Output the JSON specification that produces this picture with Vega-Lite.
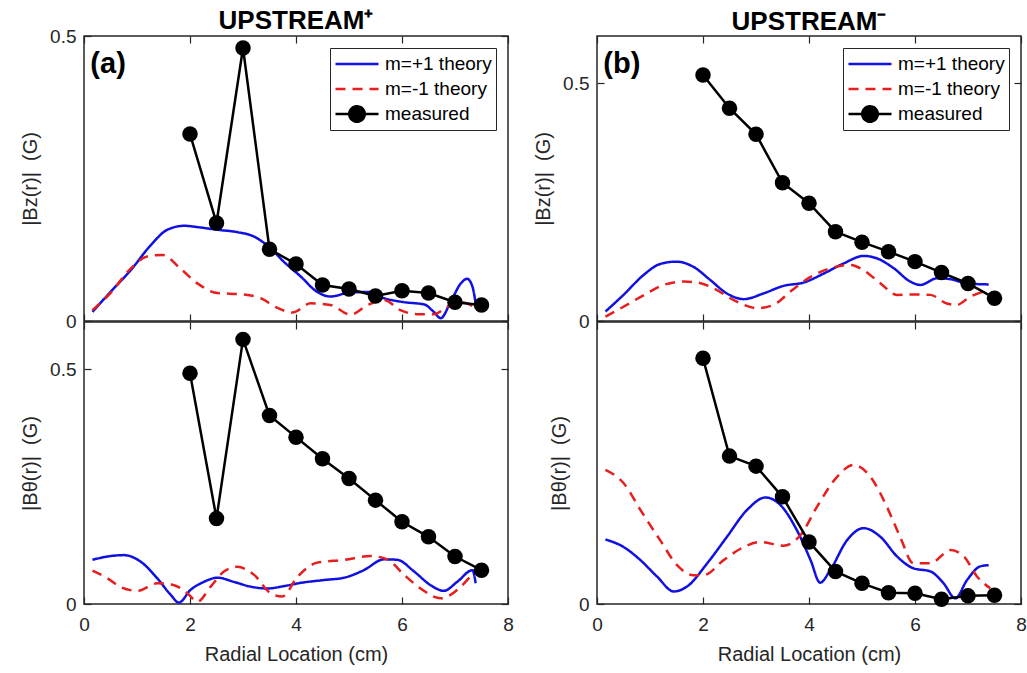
{
  "$schema": "https://vega.github.io/schema/vega-lite/v6.json",
  "background": "white",
  "padding": {"left": 19, "top": 7, "right": 5, "bottom": 3},
  "config": {
    "font": "Liberation Sans",
    "view": {"stroke": "#262626", "strokeWidth": 1.5},
    "axis": {
      "grid": false, "domain": false, "tickSize": -7, "tickColor": "#262626", "tickWidth": 1.2,
      "labelFont": "Liberation Sans", "labelFontSize": 19, "labelColor": "#262626",
      "labelFlush": false, "labelOverlap": false,
      "titleFont": "Liberation Sans", "titleFontSize": 20, "titleFontWeight": "normal", "titleColor": "#262626"
    },
    "axisY": {"labelPadding": 15, "titlePadding": 9},
    "axisX": {"labelPadding": 18, "titlePadding": 10},
    "title": {"font": "Liberation Sans", "color": "black"}
  },
  "datasets": {
    "TL": [
      {"s": "m=+1 theory", "r": 0.16, "v": 0.016}, {"s": "m=+1 theory", "r": 0.5, "v": 0.051}, {"s": "m=+1 theory", "r": 0.88, "v": 0.089},
      {"s": "m=+1 theory", "r": 1.26, "v": 0.133}, {"s": "m=+1 theory", "r": 1.57, "v": 0.16}, {"s": "m=+1 theory", "r": 1.89, "v": 0.167},
      {"s": "m=+1 theory", "r": 2.2, "v": 0.164}, {"s": "m=+1 theory", "r": 2.52, "v": 0.16}, {"s": "m=+1 theory", "r": 2.89, "v": 0.156},
      {"s": "m=+1 theory", "r": 3.21, "v": 0.148}, {"s": "m=+1 theory", "r": 3.49, "v": 0.13}, {"s": "m=+1 theory", "r": 3.77, "v": 0.104},
      {"s": "m=+1 theory", "r": 4.09, "v": 0.078}, {"s": "m=+1 theory", "r": 4.4, "v": 0.051}, {"s": "m=+1 theory", "r": 4.65, "v": 0.043},
      {"s": "m=+1 theory", "r": 4.97, "v": 0.049}, {"s": "m=+1 theory", "r": 5.35, "v": 0.051}, {"s": "m=+1 theory", "r": 5.66, "v": 0.04},
      {"s": "m=+1 theory", "r": 6.04, "v": 0.033}, {"s": "m=+1 theory", "r": 6.42, "v": 0.029}, {"s": "m=+1 theory", "r": 6.6, "v": 0.016},
      {"s": "m=+1 theory", "r": 6.73, "v": 0.005}, {"s": "m=+1 theory", "r": 6.92, "v": 0.034}, {"s": "m=+1 theory", "r": 7.11, "v": 0.066},
      {"s": "m=+1 theory", "r": 7.23, "v": 0.074}, {"s": "m=+1 theory", "r": 7.33, "v": 0.06}, {"s": "m=+1 theory", "r": 7.39, "v": 0.031},
      {"s": "m=-1 theory", "r": 0.16, "v": 0.019}, {"s": "m=-1 theory", "r": 0.5, "v": 0.049}, {"s": "m=-1 theory", "r": 0.88, "v": 0.092},
      {"s": "m=-1 theory", "r": 1.19, "v": 0.113}, {"s": "m=-1 theory", "r": 1.48, "v": 0.116}, {"s": "m=-1 theory", "r": 1.82, "v": 0.092},
      {"s": "m=-1 theory", "r": 2.14, "v": 0.066}, {"s": "m=-1 theory", "r": 2.52, "v": 0.049}, {"s": "m=-1 theory", "r": 2.96, "v": 0.047},
      {"s": "m=-1 theory", "r": 3.33, "v": 0.04}, {"s": "m=-1 theory", "r": 3.65, "v": 0.023}, {"s": "m=-1 theory", "r": 3.93, "v": 0.015},
      {"s": "m=-1 theory", "r": 4.28, "v": 0.031}, {"s": "m=-1 theory", "r": 4.65, "v": 0.028}, {"s": "m=-1 theory", "r": 5.03, "v": 0.011},
      {"s": "m=-1 theory", "r": 5.35, "v": 0.028}, {"s": "m=-1 theory", "r": 5.66, "v": 0.037}, {"s": "m=-1 theory", "r": 5.97, "v": 0.019},
      {"s": "m=-1 theory", "r": 6.29, "v": 0.012}, {"s": "m=-1 theory", "r": 6.6, "v": 0.012}, {"s": "m=-1 theory", "r": 6.86, "v": 0.025},
      {"s": "m=-1 theory", "r": 7.11, "v": 0.033}, {"s": "m=-1 theory", "r": 7.36, "v": 0.025},
      {"s": "measured", "r": 2, "v": 0.328}, {"s": "measured", "r": 2.5, "v": 0.172}, {"s": "measured", "r": 3, "v": 0.479},
      {"s": "measured", "r": 3.5, "v": 0.126}, {"s": "measured", "r": 4, "v": 0.1}, {"s": "measured", "r": 4.5, "v": 0.063},
      {"s": "measured", "r": 5, "v": 0.056}, {"s": "measured", "r": 5.5, "v": 0.044}, {"s": "measured", "r": 6, "v": 0.053},
      {"s": "measured", "r": 6.5, "v": 0.049}, {"s": "measured", "r": 7, "v": 0.033}, {"s": "measured", "r": 7.5, "v": 0.028}
    ],
    "TR": [
      {"s": "m=+1 theory", "r": 0.16, "v": 0.02}, {"s": "m=+1 theory", "r": 0.5, "v": 0.055}, {"s": "m=+1 theory", "r": 0.88, "v": 0.097},
      {"s": "m=+1 theory", "r": 1.19, "v": 0.12}, {"s": "m=+1 theory", "r": 1.5, "v": 0.125}, {"s": "m=+1 theory", "r": 1.82, "v": 0.114},
      {"s": "m=+1 theory", "r": 2.14, "v": 0.086}, {"s": "m=+1 theory", "r": 2.45, "v": 0.058}, {"s": "m=+1 theory", "r": 2.77, "v": 0.046},
      {"s": "m=+1 theory", "r": 3.14, "v": 0.058}, {"s": "m=+1 theory", "r": 3.52, "v": 0.074}, {"s": "m=+1 theory", "r": 3.9, "v": 0.081},
      {"s": "m=+1 theory", "r": 4.28, "v": 0.1}, {"s": "m=+1 theory", "r": 4.65, "v": 0.121}, {"s": "m=+1 theory", "r": 5.03, "v": 0.137},
      {"s": "m=+1 theory", "r": 5.28, "v": 0.132}, {"s": "m=+1 theory", "r": 5.6, "v": 0.111}, {"s": "m=+1 theory", "r": 5.91, "v": 0.083},
      {"s": "m=+1 theory", "r": 6.1, "v": 0.076}, {"s": "m=+1 theory", "r": 6.42, "v": 0.09}, {"s": "m=+1 theory", "r": 6.67, "v": 0.088},
      {"s": "m=+1 theory", "r": 6.98, "v": 0.079}, {"s": "m=+1 theory", "r": 7.39, "v": 0.077},
      {"s": "m=-1 theory", "r": 0.16, "v": 0.009}, {"s": "m=-1 theory", "r": 0.5, "v": 0.03}, {"s": "m=-1 theory", "r": 0.94, "v": 0.058},
      {"s": "m=-1 theory", "r": 1.26, "v": 0.076}, {"s": "m=-1 theory", "r": 1.64, "v": 0.083}, {"s": "m=-1 theory", "r": 1.89, "v": 0.081},
      {"s": "m=-1 theory", "r": 2.2, "v": 0.069}, {"s": "m=-1 theory", "r": 2.58, "v": 0.044}, {"s": "m=-1 theory", "r": 3.02, "v": 0.027},
      {"s": "m=-1 theory", "r": 3.33, "v": 0.034}, {"s": "m=-1 theory", "r": 3.65, "v": 0.062}, {"s": "m=-1 theory", "r": 4.03, "v": 0.093},
      {"s": "m=-1 theory", "r": 4.4, "v": 0.111}, {"s": "m=-1 theory", "r": 4.78, "v": 0.118}, {"s": "m=-1 theory", "r": 5.03, "v": 0.107},
      {"s": "m=-1 theory", "r": 5.35, "v": 0.079}, {"s": "m=-1 theory", "r": 5.66, "v": 0.055}, {"s": "m=-1 theory", "r": 6.04, "v": 0.056},
      {"s": "m=-1 theory", "r": 6.29, "v": 0.055}, {"s": "m=-1 theory", "r": 6.6, "v": 0.037}, {"s": "m=-1 theory", "r": 6.79, "v": 0.034},
      {"s": "m=-1 theory", "r": 7.04, "v": 0.051}, {"s": "m=-1 theory", "r": 7.39, "v": 0.065},
      {"s": "measured", "r": 2, "v": 0.518}, {"s": "measured", "r": 2.5, "v": 0.448}, {"s": "measured", "r": 3, "v": 0.393},
      {"s": "measured", "r": 3.5, "v": 0.291}, {"s": "measured", "r": 4, "v": 0.248}, {"s": "measured", "r": 4.5, "v": 0.188},
      {"s": "measured", "r": 5, "v": 0.166}, {"s": "measured", "r": 5.5, "v": 0.146}, {"s": "measured", "r": 6, "v": 0.125},
      {"s": "measured", "r": 6.5, "v": 0.102}, {"s": "measured", "r": 7, "v": 0.079}, {"s": "measured", "r": 7.5, "v": 0.048}
    ],
    "BL": [
      {"s": "m=+1 theory", "r": 0.16, "v": 0.094}, {"s": "m=+1 theory", "r": 0.44, "v": 0.101}, {"s": "m=+1 theory", "r": 0.75, "v": 0.104},
      {"s": "m=+1 theory", "r": 1.07, "v": 0.09}, {"s": "m=+1 theory", "r": 1.38, "v": 0.055}, {"s": "m=+1 theory", "r": 1.64, "v": 0.019},
      {"s": "m=+1 theory", "r": 1.79, "v": 0.003}, {"s": "m=+1 theory", "r": 2.01, "v": 0.03}, {"s": "m=+1 theory", "r": 2.26, "v": 0.047},
      {"s": "m=+1 theory", "r": 2.52, "v": 0.056}, {"s": "m=+1 theory", "r": 2.83, "v": 0.047}, {"s": "m=+1 theory", "r": 3.14, "v": 0.037},
      {"s": "m=+1 theory", "r": 3.46, "v": 0.033}, {"s": "m=+1 theory", "r": 3.77, "v": 0.038}, {"s": "m=+1 theory", "r": 4.09, "v": 0.045},
      {"s": "m=+1 theory", "r": 4.53, "v": 0.051}, {"s": "m=+1 theory", "r": 4.91, "v": 0.056}, {"s": "m=+1 theory", "r": 5.28, "v": 0.072},
      {"s": "m=+1 theory", "r": 5.66, "v": 0.095}, {"s": "m=+1 theory", "r": 5.91, "v": 0.094}, {"s": "m=+1 theory", "r": 6.23, "v": 0.069},
      {"s": "m=+1 theory", "r": 6.54, "v": 0.04}, {"s": "m=+1 theory", "r": 6.79, "v": 0.028}, {"s": "m=+1 theory", "r": 7.04, "v": 0.047},
      {"s": "m=+1 theory", "r": 7.33, "v": 0.072}, {"s": "m=+1 theory", "r": 7.39, "v": 0.044},
      {"s": "m=-1 theory", "r": 0.16, "v": 0.071}, {"s": "m=-1 theory", "r": 0.44, "v": 0.055}, {"s": "m=-1 theory", "r": 0.69, "v": 0.036},
      {"s": "m=-1 theory", "r": 1.01, "v": 0.028}, {"s": "m=-1 theory", "r": 1.38, "v": 0.044}, {"s": "m=-1 theory", "r": 1.7, "v": 0.04},
      {"s": "m=-1 theory", "r": 1.95, "v": 0.023}, {"s": "m=-1 theory", "r": 2.14, "v": 0.005}, {"s": "m=-1 theory", "r": 2.39, "v": 0.037},
      {"s": "m=-1 theory", "r": 2.64, "v": 0.069}, {"s": "m=-1 theory", "r": 2.89, "v": 0.079}, {"s": "m=-1 theory", "r": 3.21, "v": 0.062},
      {"s": "m=-1 theory", "r": 3.52, "v": 0.023}, {"s": "m=-1 theory", "r": 3.74, "v": 0.016}, {"s": "m=-1 theory", "r": 4.03, "v": 0.058},
      {"s": "m=-1 theory", "r": 4.4, "v": 0.088}, {"s": "m=-1 theory", "r": 4.91, "v": 0.094}, {"s": "m=-1 theory", "r": 5.41, "v": 0.102},
      {"s": "m=-1 theory", "r": 5.72, "v": 0.095}, {"s": "m=-1 theory", "r": 6.04, "v": 0.062}, {"s": "m=-1 theory", "r": 6.35, "v": 0.033},
      {"s": "m=-1 theory", "r": 6.73, "v": 0.012}, {"s": "m=-1 theory", "r": 7.11, "v": 0.037}, {"s": "m=-1 theory", "r": 7.33, "v": 0.064},
      {"s": "measured", "r": 2, "v": 0.491}, {"s": "measured", "r": 2.5, "v": 0.182}, {"s": "measured", "r": 3, "v": 0.563},
      {"s": "measured", "r": 3.5, "v": 0.401}, {"s": "measured", "r": 4, "v": 0.355}, {"s": "measured", "r": 4.5, "v": 0.309},
      {"s": "measured", "r": 5, "v": 0.267}, {"s": "measured", "r": 5.5, "v": 0.221}, {"s": "measured", "r": 6, "v": 0.175},
      {"s": "measured", "r": 6.5, "v": 0.143}, {"s": "measured", "r": 7, "v": 0.101}, {"s": "measured", "r": 7.5, "v": 0.072}
    ],
    "BR": [
      {"s": "m=+1 theory", "r": 0.16, "v": 0.103}, {"s": "m=+1 theory", "r": 0.5, "v": 0.091}, {"s": "m=+1 theory", "r": 0.82, "v": 0.07},
      {"s": "m=+1 theory", "r": 1.13, "v": 0.044}, {"s": "m=+1 theory", "r": 1.45, "v": 0.02}, {"s": "m=+1 theory", "r": 1.7, "v": 0.028},
      {"s": "m=+1 theory", "r": 2.08, "v": 0.065}, {"s": "m=+1 theory", "r": 2.45, "v": 0.107}, {"s": "m=+1 theory", "r": 2.83, "v": 0.15},
      {"s": "m=+1 theory", "r": 3.18, "v": 0.17}, {"s": "m=+1 theory", "r": 3.46, "v": 0.158}, {"s": "m=+1 theory", "r": 3.77, "v": 0.118},
      {"s": "m=+1 theory", "r": 4.03, "v": 0.07}, {"s": "m=+1 theory", "r": 4.21, "v": 0.034}, {"s": "m=+1 theory", "r": 4.4, "v": 0.054},
      {"s": "m=+1 theory", "r": 4.72, "v": 0.102}, {"s": "m=+1 theory", "r": 5.03, "v": 0.121}, {"s": "m=+1 theory", "r": 5.35, "v": 0.107},
      {"s": "m=+1 theory", "r": 5.66, "v": 0.076}, {"s": "m=+1 theory", "r": 5.97, "v": 0.057}, {"s": "m=+1 theory", "r": 6.29, "v": 0.052},
      {"s": "m=+1 theory", "r": 6.54, "v": 0.033}, {"s": "m=+1 theory", "r": 6.76, "v": 0.009}, {"s": "m=+1 theory", "r": 6.98, "v": 0.038},
      {"s": "m=+1 theory", "r": 7.23, "v": 0.06}, {"s": "m=+1 theory", "r": 7.39, "v": 0.062},
      {"s": "m=-1 theory", "r": 0.16, "v": 0.214}, {"s": "m=-1 theory", "r": 0.5, "v": 0.193}, {"s": "m=-1 theory", "r": 0.82, "v": 0.15},
      {"s": "m=-1 theory", "r": 1.19, "v": 0.102}, {"s": "m=-1 theory", "r": 1.51, "v": 0.062}, {"s": "m=-1 theory", "r": 1.82, "v": 0.046},
      {"s": "m=-1 theory", "r": 2.01, "v": 0.046}, {"s": "m=-1 theory", "r": 2.39, "v": 0.07}, {"s": "m=-1 theory", "r": 2.77, "v": 0.091},
      {"s": "m=-1 theory", "r": 3.08, "v": 0.099}, {"s": "m=-1 theory", "r": 3.52, "v": 0.093}, {"s": "m=-1 theory", "r": 3.84, "v": 0.11},
      {"s": "m=-1 theory", "r": 4.15, "v": 0.155}, {"s": "m=-1 theory", "r": 4.53, "v": 0.203}, {"s": "m=-1 theory", "r": 4.84, "v": 0.222},
      {"s": "m=-1 theory", "r": 5.16, "v": 0.203}, {"s": "m=-1 theory", "r": 5.47, "v": 0.155}, {"s": "m=-1 theory", "r": 5.72, "v": 0.107},
      {"s": "m=-1 theory", "r": 5.97, "v": 0.065}, {"s": "m=-1 theory", "r": 6.29, "v": 0.065}, {"s": "m=-1 theory", "r": 6.67, "v": 0.086},
      {"s": "m=-1 theory", "r": 6.92, "v": 0.076}, {"s": "m=-1 theory", "r": 7.17, "v": 0.044}, {"s": "m=-1 theory", "r": 7.42, "v": 0.025},
      {"s": "measured", "r": 2, "v": 0.392}, {"s": "measured", "r": 2.5, "v": 0.236}, {"s": "measured", "r": 3, "v": 0.22},
      {"s": "measured", "r": 3.5, "v": 0.171}, {"s": "measured", "r": 4, "v": 0.099}, {"s": "measured", "r": 4.5, "v": 0.052},
      {"s": "measured", "r": 5, "v": 0.033}, {"s": "measured", "r": 5.5, "v": 0.018}, {"s": "measured", "r": 6, "v": 0.017},
      {"s": "measured", "r": 6.5, "v": 0.0075}, {"s": "measured", "r": 7, "v": 0.013}, {"s": "measured", "r": 7.5, "v": 0.014}
    ]
  },
  "hconcat": [
    {
      "spacing": 1,
      "bounds": "flush",
      "resolve": {"legend": {"color": "independent"}},
      "vconcat": [
        {
          "width": 424, "height": 285,
          "title": {"text": "UPSTREAM⁺", "anchor": "middle", "frame": "group", "fontSize": 26, "fontWeight": "bold", "baseline": "alphabetic", "offset": -28},
          "data": {"name": "TL"},
          "resolve": {"axis": {"x": "independent", "y": "independent"}},
          "layer": [
            {
              "transform": [{"filter": "datum.s !== 'measured'"}],
              "mark": {"type": "line", "strokeWidth": 2.5, "interpolate": "monotone", "clip": true},
              "encoding": {
                "x": {"field": "r", "type": "quantitative", "scale": {"domain": [0, 8]}, "axis": {"orient": "bottom", "values": [0, 2, 4, 6, 8], "labels": false, "title": null}},
                "y": {"field": "v", "type": "quantitative", "scale": {"domain": [0, 0.5]}, "axis": {"orient": "left", "values": [0, 0.5], "format": "~g", "title": "|Bz(r)|\u00a0\u00a0(G)"}},
                "color": {"field": "s", "type": "nominal", "scale": {"domain": ["m=+1 theory", "m=-1 theory", "measured"], "range": ["#1010e0", "#e61e1e", "#000000"]},
                  "legend": {"title": null, "orient": "top-right", "offset": 12, "strokeColor": "#262626", "fillColor": "white", "padding": 4, "labelFont": "Liberation Sans", "labelFontSize": 19, "labelColor": "black", "symbolSize": 1849, "symbolStrokeWidth": 2.5, "labelOffset": 5, "rowPadding": 1, "clipHeight": 24, "symbolType": "stroke",
                    "encode": {"symbols": {"update": {
                      "shape": {"signal": "datum.value === 'measured' ? 'M-1,0H1M-0.36,0A0.36,0.36,0,1,0,0.36,0A0.36,0.36,0,1,0,-0.36,0Z' : 'stroke'"},
                      "fill": {"signal": "datum.value === 'measured' ? 'black' : 'transparent'"},
                      "strokeDash": {"signal": "datum.value === 'm=-1 theory' ? [10,7] : [1,0]"}
                    }}}}},
                "strokeDash": {"field": "s", "type": "nominal", "scale": {"domain": ["m=+1 theory", "m=-1 theory", "measured"], "range": [[1, 0], [10, 7], [1, 0]]}, "legend": null}
              }
            },
            {
              "transform": [{"filter": "datum.s === 'measured'"}],
              "mark": {"type": "line", "strokeWidth": 2.5, "point": {"filled": true, "size": 240, "opacity": 1}},
              "encoding": {
                "x": {"field": "r", "type": "quantitative", "axis": null},
                "y": {"field": "v", "type": "quantitative", "axis": null},
                "color": {"field": "s", "type": "nominal", "scale": {"domain": ["m=+1 theory", "m=-1 theory", "measured"], "range": ["#1010e0", "#e61e1e", "#000000"]},
                  "legend": {"title": null, "orient": "top-right", "offset": 12, "strokeColor": "#262626", "fillColor": "white", "padding": 4, "labelFont": "Liberation Sans", "labelFontSize": 19, "labelColor": "black", "symbolSize": 1849, "symbolStrokeWidth": 2.5, "labelOffset": 5, "rowPadding": 1, "clipHeight": 24, "symbolType": "stroke",
                    "encode": {"symbols": {"update": {
                      "shape": {"signal": "datum.value === 'measured' ? 'M-1,0H1M-0.36,0A0.36,0.36,0,1,0,0.36,0A0.36,0.36,0,1,0,-0.36,0Z' : 'stroke'"},
                      "fill": {"signal": "datum.value === 'measured' ? 'black' : 'transparent'"},
                      "strokeDash": {"signal": "datum.value === 'm=-1 theory' ? [10,7] : [1,0]"}
                    }}}}}
              }
            },
            {
              "mark": {"type": "point", "opacity": 0},
              "encoding": {
                "x": {"field": "r", "type": "quantitative", "axis": {"orient": "top", "values": [0, 2, 4, 6, 8], "labels": false, "title": null}},
                "y": {"field": "v", "type": "quantitative", "axis": {"orient": "right", "values": [0, 0.5], "labels": false, "title": null}}
              }
            },
            {
              "data": {"values": [{}]},
              "mark": {"type": "text", "text": "(a)", "font": "Liberation Sans", "fontSize": 29, "fontWeight": "bold", "align": "left", "baseline": "alphabetic", "color": "black"},
              "encoding": {
                "x": {"datum": 0.12, "type": "quantitative", "axis": null},
                "y": {"datum": 0.435, "type": "quantitative", "axis": null}
              }
            }
          ]
        },
        {
          "width": 424, "height": 282,
          "data": {"name": "BL"},
          "resolve": {"axis": {"x": "independent", "y": "independent"}},
          "layer": [
            {
              "transform": [{"filter": "datum.s !== 'measured'"}],
              "mark": {"type": "line", "strokeWidth": 2.5, "interpolate": "monotone", "clip": true},
              "encoding": {
                "x": {"field": "r", "type": "quantitative", "scale": {"domain": [0, 8]}, "axis": {"orient": "bottom", "values": [0, 2, 4, 6, 8], "format": "d", "title": "Radial Location (cm)"}},
                "y": {"field": "v", "type": "quantitative", "scale": {"domain": [0, 0.6]}, "axis": {"orient": "left", "values": [0, 0.5], "format": "~g", "title": "|Bθ(r)|\u00a0\u00a0(G)"}},
                "color": {"field": "s", "type": "nominal", "scale": {"domain": ["m=+1 theory", "m=-1 theory", "measured"], "range": ["#1010e0", "#e61e1e", "#000000"]}, "legend": null},
                "strokeDash": {"field": "s", "type": "nominal", "scale": {"domain": ["m=+1 theory", "m=-1 theory", "measured"], "range": [[1, 0], [10, 7], [1, 0]]}, "legend": null}
              }
            },
            {
              "transform": [{"filter": "datum.s === 'measured'"}],
              "mark": {"type": "line", "strokeWidth": 2.5, "point": {"filled": true, "size": 240, "opacity": 1}},
              "encoding": {
                "x": {"field": "r", "type": "quantitative", "axis": null},
                "y": {"field": "v", "type": "quantitative", "axis": null},
                "color": {"field": "s", "type": "nominal", "scale": {"domain": ["m=+1 theory", "m=-1 theory", "measured"], "range": ["#1010e0", "#e61e1e", "#000000"]}, "legend": null}
              }
            },
            {
              "mark": {"type": "point", "opacity": 0},
              "encoding": {
                "x": {"field": "r", "type": "quantitative", "axis": {"orient": "top", "values": [0, 2, 4, 6, 8], "labels": false, "title": null}},
                "y": {"field": "v", "type": "quantitative", "axis": {"orient": "right", "values": [0, 0.5], "labels": false, "title": null}}
              }
            }
          ]
        }
      ]
    },
    {
      "spacing": 1,
      "bounds": "flush",
      "resolve": {"legend": {"color": "independent"}},
      "vconcat": [
        {
          "width": 424, "height": 285,
          "title": {"text": "UPSTREAM⁻", "anchor": "middle", "frame": "group", "fontSize": 26, "fontWeight": "bold", "baseline": "alphabetic", "offset": -21},
          "data": {"name": "TR"},
          "resolve": {"axis": {"x": "independent", "y": "independent"}},
          "layer": [
            {
              "transform": [{"filter": "datum.s !== 'measured'"}],
              "mark": {"type": "line", "strokeWidth": 2.5, "interpolate": "monotone", "clip": true},
              "encoding": {
                "x": {"field": "r", "type": "quantitative", "scale": {"domain": [0, 8]}, "axis": {"orient": "bottom", "values": [0, 2, 4, 6, 8], "labels": false, "title": null}},
                "y": {"field": "v", "type": "quantitative", "scale": {"domain": [0, 0.6]}, "axis": {"orient": "left", "values": [0, 0.5], "format": "~g", "title": "|Bz(r)|\u00a0\u00a0(G)"}},
                "color": {"field": "s", "type": "nominal", "scale": {"domain": ["m=+1 theory", "m=-1 theory", "measured"], "range": ["#1010e0", "#e61e1e", "#000000"]},
                  "legend": {"title": null, "orient": "top-right", "offset": 12, "strokeColor": "#262626", "fillColor": "white", "padding": 4, "labelFont": "Liberation Sans", "labelFontSize": 19, "labelColor": "black", "symbolSize": 1849, "symbolStrokeWidth": 2.5, "labelOffset": 5, "rowPadding": 1, "clipHeight": 24, "symbolType": "stroke",
                    "encode": {"symbols": {"update": {
                      "shape": {"signal": "datum.value === 'measured' ? 'M-1,0H1M-0.36,0A0.36,0.36,0,1,0,0.36,0A0.36,0.36,0,1,0,-0.36,0Z' : 'stroke'"},
                      "fill": {"signal": "datum.value === 'measured' ? 'black' : 'transparent'"},
                      "strokeDash": {"signal": "datum.value === 'm=-1 theory' ? [10,7] : [1,0]"}
                    }}}}},
                "strokeDash": {"field": "s", "type": "nominal", "scale": {"domain": ["m=+1 theory", "m=-1 theory", "measured"], "range": [[1, 0], [10, 7], [1, 0]]}, "legend": null}
              }
            },
            {
              "transform": [{"filter": "datum.s === 'measured'"}],
              "mark": {"type": "line", "strokeWidth": 2.5, "point": {"filled": true, "size": 240, "opacity": 1}},
              "encoding": {
                "x": {"field": "r", "type": "quantitative", "axis": null},
                "y": {"field": "v", "type": "quantitative", "axis": null},
                "color": {"field": "s", "type": "nominal", "scale": {"domain": ["m=+1 theory", "m=-1 theory", "measured"], "range": ["#1010e0", "#e61e1e", "#000000"]},
                  "legend": {"title": null, "orient": "top-right", "offset": 12, "strokeColor": "#262626", "fillColor": "white", "padding": 4, "labelFont": "Liberation Sans", "labelFontSize": 19, "labelColor": "black", "symbolSize": 1849, "symbolStrokeWidth": 2.5, "labelOffset": 5, "rowPadding": 1, "clipHeight": 24, "symbolType": "stroke",
                    "encode": {"symbols": {"update": {
                      "shape": {"signal": "datum.value === 'measured' ? 'M-1,0H1M-0.36,0A0.36,0.36,0,1,0,0.36,0A0.36,0.36,0,1,0,-0.36,0Z' : 'stroke'"},
                      "fill": {"signal": "datum.value === 'measured' ? 'black' : 'transparent'"},
                      "strokeDash": {"signal": "datum.value === 'm=-1 theory' ? [10,7] : [1,0]"}
                    }}}}}
              }
            },
            {
              "mark": {"type": "point", "opacity": 0},
              "encoding": {
                "x": {"field": "r", "type": "quantitative", "axis": {"orient": "top", "values": [0, 2, 4, 6, 8], "labels": false, "title": null}},
                "y": {"field": "v", "type": "quantitative", "axis": {"orient": "right", "values": [0, 0.5], "labels": false, "title": null}}
              }
            },
            {
              "data": {"values": [{}]},
              "mark": {"type": "text", "text": "(b)", "font": "Liberation Sans", "fontSize": 29, "fontWeight": "bold", "align": "left", "baseline": "alphabetic", "color": "black"},
              "encoding": {
                "x": {"datum": 0.12, "type": "quantitative", "axis": null},
                "y": {"datum": 0.522, "type": "quantitative", "axis": null}
              }
            }
          ]
        },
        {
          "width": 424, "height": 282,
          "data": {"name": "BR"},
          "resolve": {"axis": {"x": "independent", "y": "independent"}},
          "layer": [
            {
              "transform": [{"filter": "datum.s !== 'measured'"}],
              "mark": {"type": "line", "strokeWidth": 2.5, "interpolate": "monotone", "clip": true},
              "encoding": {
                "x": {"field": "r", "type": "quantitative", "scale": {"domain": [0, 8]}, "axis": {"orient": "bottom", "values": [0, 2, 4, 6, 8], "format": "d", "title": "Radial Location (cm)"}},
                "y": {"field": "v", "type": "quantitative", "scale": {"domain": [0, 0.45]}, "axis": {"orient": "left", "values": [0], "format": "~g", "title": "|Bθ(r)|\u00a0\u00a0(G)"}},
                "color": {"field": "s", "type": "nominal", "scale": {"domain": ["m=+1 theory", "m=-1 theory", "measured"], "range": ["#1010e0", "#e61e1e", "#000000"]}, "legend": null},
                "strokeDash": {"field": "s", "type": "nominal", "scale": {"domain": ["m=+1 theory", "m=-1 theory", "measured"], "range": [[1, 0], [10, 7], [1, 0]]}, "legend": null}
              }
            },
            {
              "transform": [{"filter": "datum.s === 'measured'"}],
              "mark": {"type": "line", "strokeWidth": 2.5, "point": {"filled": true, "size": 240, "opacity": 1}},
              "encoding": {
                "x": {"field": "r", "type": "quantitative", "axis": null},
                "y": {"field": "v", "type": "quantitative", "axis": null},
                "color": {"field": "s", "type": "nominal", "scale": {"domain": ["m=+1 theory", "m=-1 theory", "measured"], "range": ["#1010e0", "#e61e1e", "#000000"]}, "legend": null}
              }
            },
            {
              "mark": {"type": "point", "opacity": 0},
              "encoding": {
                "x": {"field": "r", "type": "quantitative", "axis": {"orient": "top", "values": [0, 2, 4, 6, 8], "labels": false, "title": null}},
                "y": {"field": "v", "type": "quantitative", "axis": {"orient": "right", "values": [0], "labels": false, "title": null}}
              }
            }
          ]
        }
      ]
    }
  ],
  "spacing": 17,
  "resolve": {"legend": {"color": "independent"}}
}
